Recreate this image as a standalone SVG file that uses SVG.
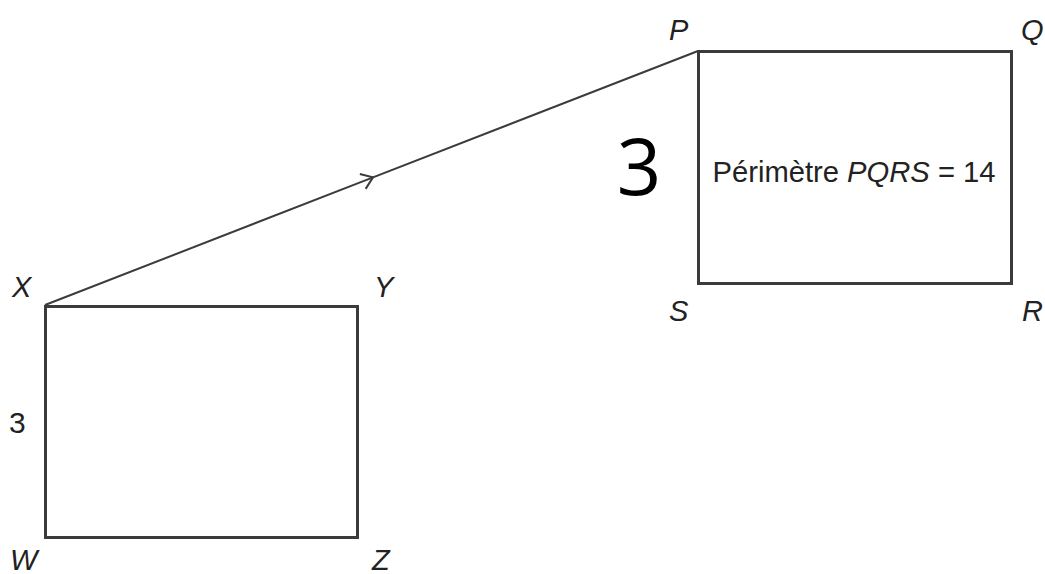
<svg xmlns="http://www.w3.org/2000/svg" width="1045" height="574" viewBox="0 0 1045 574">
  <defs>
    <style>
      .box { fill: none; stroke: #3b3b3b; stroke-width: 3; }
      .edge { fill: none; stroke: #3b3b3b; stroke-width: 2; }
      .lbl { font-family: "Liberation Sans", Arial, sans-serif; font-style: italic; font-size: 29px; fill: #222; }
      .num { font-family: "Liberation Sans", Arial, sans-serif; font-size: 30px; fill: #222; }
    </style>
    <marker id="chev" viewBox="-12 -9 14 18" markerWidth="14" markerHeight="18" refX="0" refY="0" orient="auto" markerUnits="userSpaceOnUse">
      <path d="M-11,-8 L0,0 L-11,8" fill="none" stroke="#3b3b3b" stroke-width="2"/>
    </marker>
  </defs>
  <rect width="1045" height="574" fill="#ffffff"/>

  <g id="connectors">
    <path class="edge" d="M45,305 L373,177.4 L698,51" marker-mid="url(#chev)"/>
  </g>

  <g id="rect-PQRS">
    <rect class="box" x="698.5" y="51.5" width="313" height="232"/>
    <text class="lbl" x="669" y="40">P</text>
    <text class="lbl" x="1021" y="40">Q</text>
    <text class="lbl" x="1022" y="321">R</text>
    <text class="lbl" x="669" y="321">S</text>
    <text class="num" x="854" y="182" text-anchor="middle" textLength="283" lengthAdjust="spacingAndGlyphs">Périmètre <tspan font-style="italic">PQRS</tspan> = 14</text>
  </g>

  <g id="big-3">
    <text x="639" y="195" text-anchor="middle" font-family="'Open Sans', 'Noto Sans', sans-serif" font-size="78" fill="#000">3</text>
  </g>

  <g id="rect-XYZW">
    <rect class="box" x="45.5" y="306.5" width="312" height="231"/>
    <text class="lbl" x="12" y="297">X</text>
    <text class="lbl" x="374" y="297">Y</text>
    <text class="lbl" x="372" y="570">Z</text>
    <text class="lbl" x="10" y="570">W</text>
    <text class="num" x="9" y="433">3</text>
  </g>
</svg>
